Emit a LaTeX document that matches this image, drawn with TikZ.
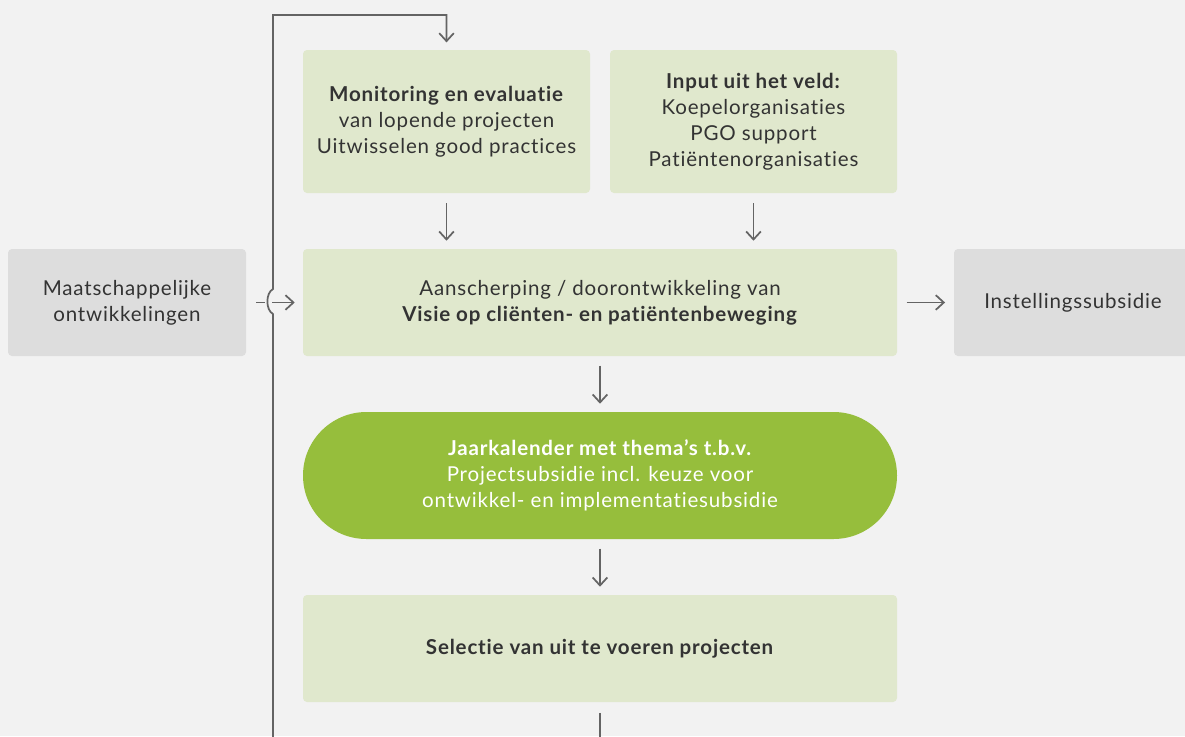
\documentclass[tikz,border=0pt]{standalone}
\usepackage{fontspec}
\setmainfont{Lato}[LetterSpace=4,Ligatures={NoCommon}]
\usetikzlibrary{arrows.meta}
\definecolor{bg}{HTML}{F2F2F2}
\definecolor{lgreen}{HTML}{E0E8CD}
\definecolor{lgray}{HTML}{DDDDDD}
\definecolor{pill}{HTML}{96BE3C}
\definecolor{linec}{HTML}{646464}
\definecolor{txt}{HTML}{333333}
\begin{document}
\begin{tikzpicture}[x=0.75pt,y=-0.75pt,
  base/.style={align=center, text=txt, inner sep=0pt, font=\fontsize{15.4}{19.5}\selectfont},
  gbox/.style={base, fill=lgreen, rounded corners=3pt},
  ybox/.style={base, fill=lgray, rounded corners=3pt},
  pillbox/.style={base, fill=pill, text=white, rounded corners=47.6pt},
  arr/.style={draw=linec, line width=1.3pt, -{Straight Barb[length=6pt,width=11pt]}},
  ln/.style={draw=linec, line width=1.3pt}]
\useasboundingbox (0,0) rectangle (1185,736);
\clip (0,0) rectangle (1185,736);
\fill[bg] (0,0) rectangle (1185,736);

\node[gbox, minimum width=215.25pt, minimum height=107.25pt] (mon) at (446.5,121.5)
  {\textbf{Monitoring en evaluatie}\\van lopende projecten\\Uitwisselen good practices};
\node[gbox, minimum width=215.25pt, minimum height=107.25pt] (inp) at (753.5,121.5)
  {\textbf{Input uit het veld:}\\Koepelorganisaties\\PGO support\\Patiëntenorganisaties};
\node[gbox, minimum width=445.5pt, minimum height=80.25pt] (vis) at (600,302.5)
  {Aanscherping / doorontwikkeling van\\\textbf{Visie op cliënten- en patiëntenbeweging}};
\node[ybox, minimum width=178.5pt, minimum height=80.25pt] (maat) at (127,302.5)
  {Maatschappelijke\\ontwikkelingen};
\node[ybox, minimum width=178.5pt, minimum height=80.25pt] (inst) at (1073,302.5) {};
\node[base] (instt) at (1073,302.5) {Instellingssubsidie};
\node[pillbox, minimum width=445.5pt, minimum height=95.25pt] (jaar) at (600,475.5)
  {\textbf{Jaarkalender met thema’s t.b.v.}\\Projectsubsidie incl. keuze voor\\ontwikkel- en implementatiesubsidie};
\node[gbox, minimum width=445.5pt, minimum height=80.25pt] (sel) at (600,648.5)
  {\textbf{Selectie van uit te voeren projecten}};

\coordinate (bot) at (273,745);
\coordinate (tl) at (273,15);
\coordinate (selend) at (600,745);

% vertical arrows
\draw[arr] ([yshift=-7.5pt]mon.south) -- ([yshift=6pt]mon.south |- vis.north);
\draw[arr] ([yshift=-7.5pt]inp.south) -- ([yshift=6pt]inp.south |- vis.north);
\draw[arr] ([yshift=-7pt]vis.south) -- ([yshift=6pt]jaar.north);
\draw[arr] ([yshift=-7pt]jaar.south) -- ([yshift=6pt]sel.north);
\draw[ln] ([yshift=-8pt]sel.south) -- (selend);

% horizontal arrows
\draw[arr] ([xshift=7.5pt]maat.east) -- ([xshift=-6pt]vis.west);
\draw[bg, line width=3pt] (264.5,301.5) -- (271.5,301.5);
\draw[arr] ([xshift=7pt]vis.east) -- ([xshift=-6.5pt]inst.west);

% feedback loop
\draw[arr] (bot) -- (273,314) .. controls (265.5,310) and (265.5,293) .. (273,289)
  -- (tl) -| ([yshift=5.5pt]mon.north);
\end{tikzpicture}
\end{document}
